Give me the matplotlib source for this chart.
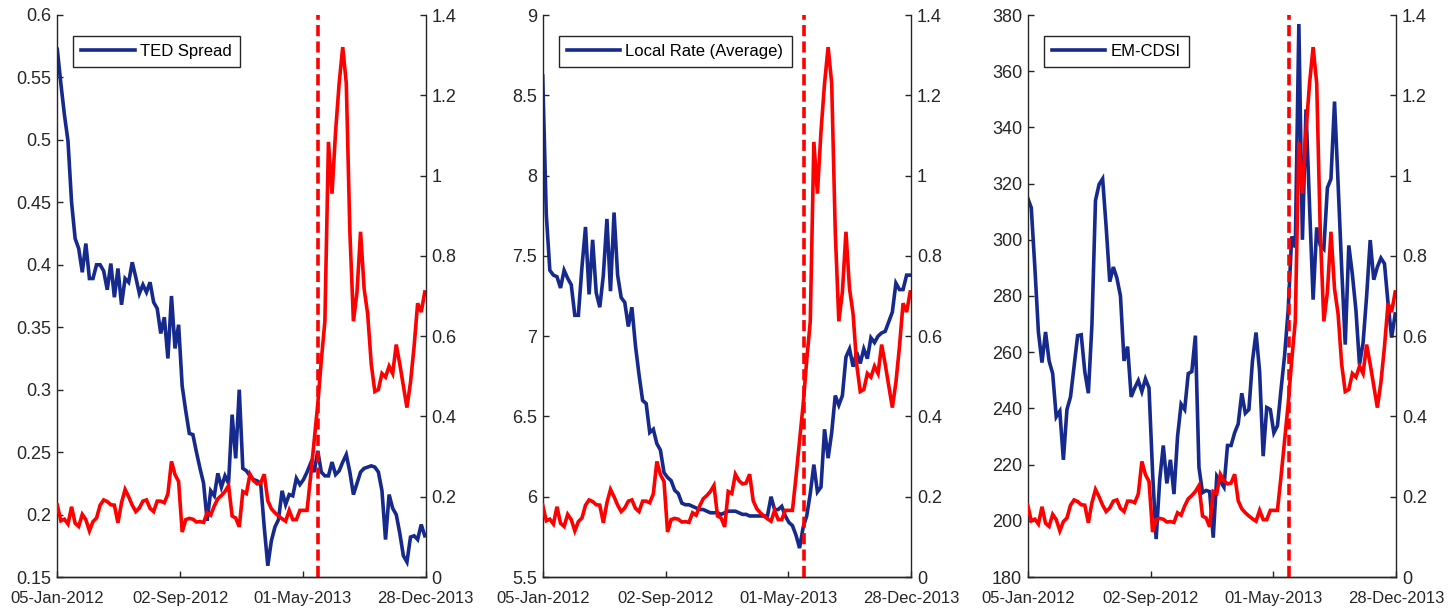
import matplotlib
matplotlib.use("Agg")
import matplotlib.pyplot as plt
import matplotlib.dates as mdates
from matplotlib.ticker import FuncFormatter
import numpy as np
import pandas as pd

plt.rcParams['font.family'] = ['Liberation Sans', 'DejaVu Sans']
plt.rcParams['lines.scale_dashes'] = False

# Weekly observations, 05-Jan-2012 onwards
dates = pd.date_range('2012-01-05', periods=104, freq='7D')
x_start = pd.Timestamp('2012-01-05')
x_end = pd.Timestamp('2013-12-28')
event_date = pd.Timestamp('2013-05-31')
tick_dates = pd.to_datetime(['2012-01-05', '2012-09-02', '2013-05-01', '2013-12-28'])

# Common right-axis series (drawn in red in every panel)
flow = [0.179, 0.14, 0.144, 0.132, 0.175, 0.134, 0.126, 0.156, 0.143, 0.115,
        0.138, 0.147, 0.179, 0.192, 0.188, 0.18, 0.179, 0.135, 0.185, 0.218,
        0.2, 0.179, 0.163, 0.172, 0.189, 0.192, 0.171, 0.163, 0.189, 0.189,
        0.185, 0.207, 0.288, 0.255, 0.238, 0.112, 0.143, 0.146, 0.144, 0.137,
        0.138, 0.136, 0.16, 0.154, 0.177, 0.195, 0.203, 0.213, 0.228, 0.152,
        0.147, 0.125, 0.213, 0.208, 0.256, 0.24, 0.232, 0.234, 0.256, 0.19,
        0.17, 0.16, 0.152, 0.145, 0.139, 0.166, 0.143, 0.143, 0.166, 0.166,
        0.166, 0.25, 0.34, 0.43, 0.54, 0.637, 1.084, 0.955, 1.11, 1.23,
        1.32, 1.23, 0.86, 0.637, 0.71, 0.86, 0.718, 0.655, 0.53, 0.462,
        0.467, 0.507, 0.498, 0.525, 0.507, 0.579, 0.53, 0.476, 0.422, 0.485,
        0.574, 0.682, 0.66, 0.71]

ted_spread = [0.5725, 0.545, 0.52, 0.499, 0.45, 0.421, 0.413, 0.394, 0.417, 0.389,
              0.389, 0.4, 0.4, 0.395, 0.38, 0.401, 0.374, 0.397, 0.368, 0.389,
              0.386, 0.402, 0.39, 0.377, 0.384, 0.378, 0.386, 0.37, 0.365, 0.345,
              0.358, 0.325, 0.375, 0.333, 0.352, 0.303, 0.283, 0.265, 0.264, 0.25,
              0.237, 0.225, 0.195, 0.219, 0.215, 0.233, 0.222, 0.231, 0.225, 0.28,
              0.245, 0.3, 0.237, 0.235, 0.231, 0.228, 0.227, 0.225, 0.19, 0.159,
              0.179, 0.19, 0.196, 0.219, 0.208, 0.216, 0.215, 0.229, 0.224, 0.228,
              0.234, 0.241, 0.234, 0.251, 0.234, 0.231, 0.231, 0.242, 0.232, 0.235,
              0.242, 0.248, 0.234, 0.216, 0.225, 0.234, 0.237, 0.238, 0.239, 0.238,
              0.234, 0.219, 0.18, 0.216, 0.205, 0.2, 0.185, 0.167, 0.162, 0.182,
              0.183, 0.18, 0.192, 0.183]

local_rate = [8.62, 7.76, 7.41, 7.38, 7.37, 7.3, 7.41, 7.36, 7.32, 7.13,
              7.13, 7.43, 7.68, 7.26, 7.6, 7.27, 7.18, 7.38, 7.73, 7.28,
              7.77, 7.38, 7.24, 7.21, 7.06, 7.18, 6.94, 6.76, 6.6, 6.58,
              6.4, 6.42, 6.33, 6.29, 6.15, 6.12, 6.1, 6.04, 6.02, 5.96,
              5.95, 5.95, 5.94, 5.93, 5.92, 5.92, 5.91, 5.9, 5.9, 5.9,
              5.89, 5.9, 5.91, 5.91, 5.91, 5.9, 5.89, 5.89, 5.88, 5.88,
              5.88, 5.88, 5.88, 5.88, 6.0, 5.92, 5.92, 5.94, 5.88, 5.84,
              5.82, 5.76, 5.68, 5.81, 5.88, 6.02, 6.2, 6.03, 6.06, 6.42,
              6.24, 6.4, 6.63, 6.57, 6.63, 6.87, 6.92, 6.81, 6.9, 6.83,
              6.92, 6.86, 6.99, 6.96, 7.0, 7.02, 7.03, 7.09, 7.15, 7.33,
              7.29, 7.29, 7.38, 7.38]

em_cdsi = [314.9, 311.4, 290.3, 267.2, 256.3, 267.2, 256.9, 252.4, 237.0, 239.0,
           221.7, 239.6, 244.1, 255.0, 265.9, 266.2, 253.1, 245.4, 269.7, 314.0,
           319.7, 321.7, 304.4, 285.1, 290.3, 286.4, 280.0, 256.9, 262.0, 244.1,
           247.3, 249.9, 246.0, 250.5, 247.3, 217.2, 193.5, 214.6, 226.8, 213.3,
           221.7, 209.5, 230.0, 241.5, 239.6, 252.4, 253.1, 265.9, 219.0, 210.0,
           210.8, 210.4, 194.0, 215.9, 214.0, 212.0, 226.8, 226.8, 231.3, 234.5,
           245.4, 238.3, 239.6, 256.9, 267.0, 253.1, 223.0, 240.3, 239.6, 231.3,
           233.8, 246.7, 258.8, 274.9, 301.2, 297.3, 376.8, 300.0, 346.4, 312.0,
           278.7, 304.4, 298.0, 296.7, 318.5, 321.7, 349.2, 320.0, 290.0, 262.7,
           298.0, 287.7, 274.9, 255.6, 263.3, 280.0, 299.9, 285.8, 290.3, 293.5,
           291.5, 277.4, 265.2, 273.6]

panels = [
    ("TED Spread", ted_spread, (0.15, 0.6), np.arange(0.15, 0.6001, 0.05)),
    ("Local Rate (Average)", local_rate, (5.5, 9.0), np.arange(5.5, 9.001, 0.5)),
    ("EM-CDSI", em_cdsi, (180, 380), np.arange(180, 381, 20)),
]
right_ticks = np.arange(0, 1.4001, 0.2)

BLUE = '#16298C'
RED = '#FF0000'
INK = '#262626'
FS_Y = 13
FS_X = 12
FS_LEG = 12

fig = plt.figure(figsize=(14.51, 6.15), dpi=100)
lefts = [57.3, 542.7, 1027.7]
W, H = 1451.0, 615.0
fmt = FuncFormatter(lambda v, p: ('%.10g' % round(v, 6)))

for (label, series, ylim, yticks), lx in zip(panels, lefts):
    ax = fig.add_axes([lx / W, 38 / H, 368.5 / W, 562 / H])
    ax2 = ax.twinx()

    line, = ax.plot(dates, series, color=BLUE, lw=2.6, label=label, solid_joinstyle='miter')
    ax2.plot(dates, flow, color=RED, lw=2.6, solid_joinstyle='miter')
    ax2.axvline(event_date, color=RED, lw=2.6, linestyle=(0, (8, 3.8)))

    ax.set_xlim(x_start, x_end)
    ax.set_ylim(*ylim)
    ax.set_yticks(yticks)
    ax2.set_ylim(0, 1.4)
    ax2.set_yticks(right_ticks)
    ax.yaxis.set_major_formatter(fmt)
    ax2.yaxis.set_major_formatter(fmt)
    ax.set_xticks(tick_dates)
    ax.xaxis.set_major_formatter(mdates.DateFormatter('%d-%b-%Y'))

    for a in (ax, ax2):
        a.spines['top'].set_visible(False)
        for s in a.spines.values():
            s.set_color(INK)
            s.set_linewidth(1.0)
        a.tick_params(direction='in', length=4, width=1.0, colors=INK,
                      labelsize=FS_Y, labelcolor=INK)
    ax.spines['right'].set_visible(False)
    ax2.spines['left'].set_visible(False)
    ax.tick_params(axis='x', pad=10, labelsize=FS_X)
    ax.tick_params(axis='y', pad=4)
    ax2.tick_params(axis='y', pad=4)

    leg = ax.legend(handles=[line], loc='upper left', bbox_to_anchor=(0.043, 0.963),
                    borderaxespad=0, fancybox=False, framealpha=1, edgecolor=INK,
                    handlelength=3.2, fontsize=FS_LEG, borderpad=0.5, handletextpad=0.3)
    leg.get_frame().set_linewidth(1.0)

fig.savefig('out.png', dpi=100)
